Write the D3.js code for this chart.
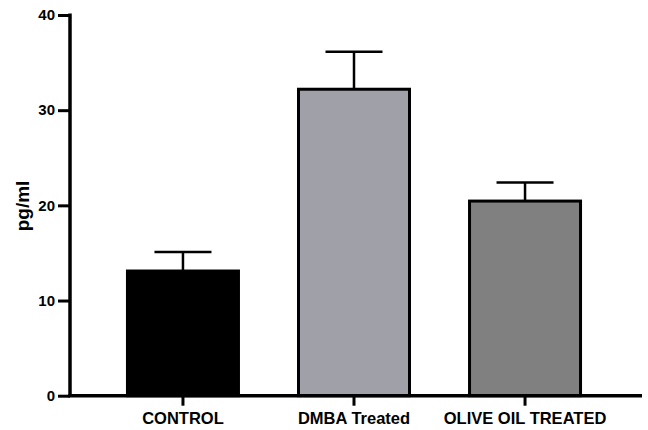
<!DOCTYPE html>
<html><head><meta charset="utf-8">
<script src="https://cdn.jsdelivr.net/npm/d3@7"></script>
<style>body{margin:0;background:#fff}svg{display:block}</style>
</head><body><svg id="c" width="648" height="430"></svg>
<script>
const categories = ["CONTROL", "DMBA Treated", "OLIVE OIL TREATED"];
const means = [13.1, 32.2, 20.45];
const errors = [2.0, 3.95, 1.95];
const fills = ["#000000", "#a0a0a8", "#808080"];
const yTicks = [0, 10, 20, 30, 40];

const svg = d3.select("#c");
const font = "'Liberation Sans', Arial, sans-serif";
const y = d3.scaleLinear().domain([0, 40]).range([395.7, 15]);
const x = d3.scaleBand().domain(categories).range([70, 638]).paddingInner(0.351).paddingOuter(0.336);

// bars
svg.selectAll("rect.bar").data(categories).join("rect")
  .attr("x", d => x(d)).attr("width", x.bandwidth())
  .attr("y", (d, i) => y(means[i])).attr("height", (d, i) => y(0) - y(means[i]))
  .attr("fill", (d, i) => fills[i]).attr("stroke", "#000").attr("stroke-width", 3);

// error bars
const cap = 57;
categories.forEach((d, i) => {
  const cx = x(d) + x.bandwidth() / 2;
  svg.append("line").attr("x1", cx).attr("x2", cx).attr("y1", y(means[i])).attr("y2", y(means[i] + errors[i]))
    .attr("stroke", "#000").attr("stroke-width", 2.5);
  svg.append("line").attr("x1", cx - cap / 2).attr("x2", cx + cap / 2).attr("y1", y(means[i] + errors[i])).attr("y2", y(means[i] + errors[i]))
    .attr("stroke", "#000").attr("stroke-width", 2.5);
});

// y axis
const ya = svg.append("g").attr("transform", "translate(70,0)")
  .call(d3.axisLeft(y).tickValues(yTicks).tickSize(12).tickPadding(3));
ya.select(".domain").attr("stroke-width", 3.5).attr("d", `M0,${y(40) - 1.5}V${y(0)}`);
ya.selectAll(".tick line").attr("stroke-width", 3);
ya.selectAll(".tick text").attr("font-family", font).attr("font-weight", "bold").attr("font-size", 15).attr("fill", "#000");

// x axis
const xa = svg.append("g").attr("transform", `translate(0,${y(0)})`)
  .call(d3.axisBottom(x).tickSize(10).tickPadding(7));
xa.select(".domain").attr("stroke-width", 3.5).attr("d", `M68.3,0H642`);
xa.selectAll(".tick line").attr("stroke-width", 3);
xa.selectAll(".tick text").attr("font-family", font).attr("font-weight", "bold").attr("font-size", 16.5).attr("fill", "#000");

// y label
svg.append("text").attr("transform", "translate(29,206) rotate(-90)")
  .attr("text-anchor", "middle").attr("font-family", font).attr("font-weight", "bold").attr("font-size", 19)
  .text("pg/ml");
</script></body></html>
